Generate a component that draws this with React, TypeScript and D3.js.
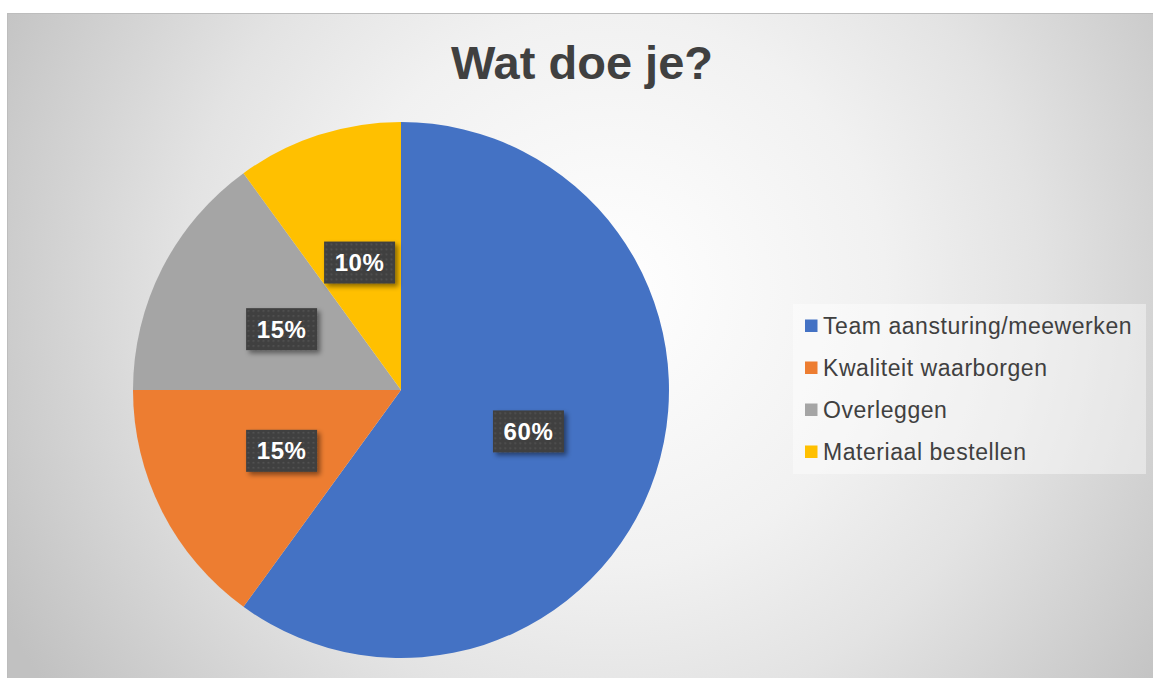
import React from "react";
import * as d3 from "d3";

const categories = ["Team aansturing/meewerken", "Kwaliteit waarborgen", "Overleggen", "Materiaal bestellen"];
const values = [60, 15, 15, 10];
const colors = ["#4472C4", "#ED7D31", "#A5A5A5", "#FFC000"];
const title = "Wat doe je?";

const W = 1153;
const H = 678;
const cx = 401;
const cy = 390;
const R = 268;

export default function App() {
  const pie = d3.pie<number>().sort(null).startAngle(0).endAngle(2 * Math.PI)(values);
  const arc = d3.arc<d3.PieArcDatum<number>>().innerRadius(0).outerRadius(R);
  const labelArc = d3.arc<d3.PieArcDatum<number>>().innerRadius(R * 0.5).outerRadius(R * 0.5);
  const total = d3.sum(values);
  const fmt = (v: number) => `${Math.round((v / total) * 100)}%`;
  const legendY = d3.scalePoint<string>().domain(categories).range([326, 452]);

  return (
    <svg width={W} height={H} style={{ position: "absolute", left: 0, top: 0 }} fontFamily="'Liberation Sans', Arial, sans-serif">
      <defs>
        <radialGradient id="bg" gradientUnits="userSpaceOnUse" cx={610} cy={290} r={690}>
          <stop offset="0" stopColor="#ffffff" />
          <stop offset="0.4" stopColor="#f1f1f1" />
          <stop offset="0.62" stopColor="#e3e3e3" />
          <stop offset="1" stopColor="#c1c1c1" />
        </radialGradient>
        <pattern id="dots" width="5" height="5" patternUnits="userSpaceOnUse">
          <rect width="5" height="5" fill="#404040" />
          <rect x="1" y="1" width="1.6" height="1.6" fill="#565656" />
        </pattern>
        <filter id="shadow" x="-30%" y="-30%" width="170%" height="170%">
          <feDropShadow dx="3" dy="3" stdDeviation="2.5" floodColor="#000" floodOpacity="0.45" />
        </filter>
      </defs>
      <rect x={7.5} y={13.5} width={1150} height={670} fill="url(#bg)" stroke="#bdbdbd" strokeWidth={1} />
      <text x={582} y={79} textAnchor="middle" fontSize={47} fontWeight="bold" fill="#404040">
        {title}
      </text>
      <g transform={`translate(${cx},${cy})`}>
        {pie.map((d, i) => (
          <path key={i} d={arc(d) || ""} fill={colors[i]} />
        ))}
        {pie.map((d, i) => {
          const [lx, ly] = labelArc.centroid(d);
          const bw = 71;
          const bh = 42;
          return (
            <g key={"l" + i} transform={`translate(${lx},${ly})`}>
              <rect x={-bw / 2} y={-bh / 2} width={bw} height={bh} fill="url(#dots)" filter="url(#shadow)" />
              <text x={0} y={8.5} textAnchor="middle" fontSize={24} letterSpacing={0.6} fontWeight="bold" fill="#ffffff">
                {fmt(d.data)}
              </text>
            </g>
          );
        })}
      </g>
      <rect x={793} y={304} width={353} height={170} fill="#ffffff" fillOpacity={0.42} />
      {categories.map((c, i) => {
        const y = legendY(c) as number;
        return (
          <g key={c}>
            <rect x={805} y={y - 6.5} width={12.5} height={12.5} fill={colors[i]} />
            <text x={823} y={y + 8} fontSize={23} letterSpacing={0.55} fill="#404040">
              {c}
            </text>
          </g>
        );
      })}
    </svg>
  );
}
